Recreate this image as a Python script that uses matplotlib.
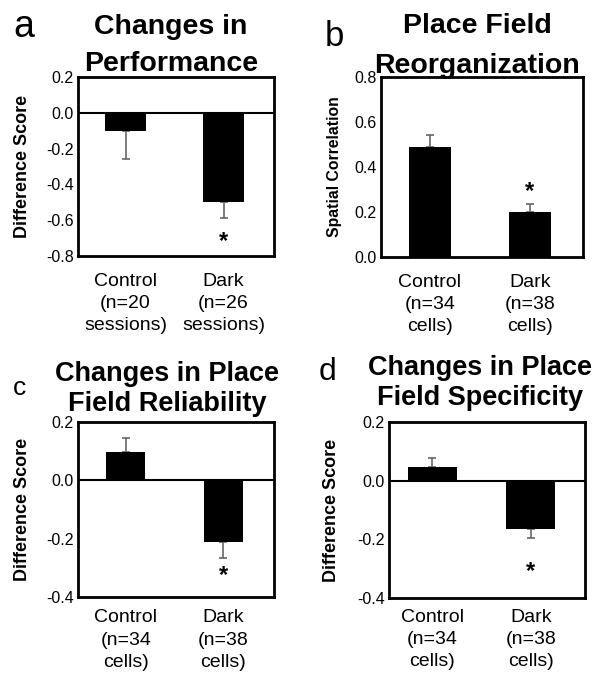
import matplotlib
matplotlib.use("Agg")
import matplotlib.pyplot as plt

plt.rcParams['font.family'] = ['Liberation Sans', 'DejaVu Sans']

# ---- data ----
groups = ["Control", "Dark"]

perf_labels = ["Control\n(n=20\nsessions)", "Dark\n(n=26\nsessions)"]
perf_vals = [-0.10, -0.50]
perf_err = [0.16, 0.09]
perf_star = -0.72

reorg_labels = ["Control\n(n=34\ncells)", "Dark\n(n=38\ncells)"]
reorg_vals = [0.49, 0.20]
reorg_err = [0.05, 0.035]
reorg_star = 0.29

rel_labels = ["Control\n(n=34\ncells)", "Dark\n(n=38\ncells)"]
rel_vals = [0.096, -0.213]
rel_err = [0.05, 0.052]
rel_star = -0.325

spec_labels = ["Control\n(n=34\ncells)", "Dark\n(n=38\ncells)"]
spec_vals = [0.048, -0.165]
spec_err = [0.03, 0.03]
spec_star = -0.31

fig = plt.figure(figsize=(5.98, 6.75), dpi=100)

def panel(rect, vals, errs, labels, ylim, yticks, ylabel, ylabel_size,
          xlim, width, star_y, zero_line, lpad, xpad):
    ax = fig.add_axes(rect)
    x = [1, 2]
    ax.bar(x, vals, width=width, color='black', zorder=2)
    for xi, v, e in zip(x, vals, errs):
        sign = 1 if v >= 0 else -1
        ax.errorbar([xi], [v], yerr=[[0], [e]] if sign > 0 else [[e], [0]],
                    fmt='none', ecolor='#666666', elinewidth=1.2,
                    capsize=3, capthick=1.2, zorder=1)
    if zero_line:
        ax.axhline(0, color='black', lw=1.5, zorder=3)
    ax.text(2, star_y, "*", ha='center', va='center', fontsize=17,
            fontweight='bold')
    ax.set_ylim(*ylim)
    ax.set_xlim(*xlim)
    ax.set_yticks(yticks)
    ax.set_yticklabels([f"{t:.1f}" for t in yticks], fontsize=11.5)
    ax.set_xticks(x)
    ax.set_xticklabels(labels, fontsize=14, linespacing=1.4)
    ax.tick_params(axis='both', length=0)
    ax.tick_params(axis='y', pad=3)
    ax.tick_params(axis='x', pad=xpad)
    for s in ax.spines.values():
        s.set_linewidth(2)
    ax.set_ylabel(ylabel, fontsize=ylabel_size, fontweight='bold', labelpad=lpad)
    return ax

panel([0.1304, 0.6207, 0.3278, 0.2652], perf_vals, perf_err, perf_labels,
      (-0.8, 0.2), [0.2, 0.0, -0.2, -0.4, -0.6, -0.8], "Difference Score", 13,
      (0.515, 2.515), 0.42, perf_star, True, 11, 12)
panel([0.6371, 0.6193, 0.3378, 0.2667], reorg_vals, reorg_err, reorg_labels,
      (0.0, 0.8), [0.0, 0.2, 0.4, 0.6, 0.8], "Spatial Correlation", 11.3,
      (0.51, 2.53), 0.42, reorg_star, False, 9, 12)
panel([0.1304, 0.1156, 0.3278, 0.2593], rel_vals, rel_err, rel_labels,
      (-0.4, 0.2), [0.2, 0.0, -0.2, -0.4], "Difference Score", 13,
      (0.51, 2.52), 0.40, rel_star, True, 11, 9)
panel([0.6505, 0.1141, 0.3278, 0.2607], spec_vals, spec_err, spec_labels,
      (-0.4, 0.2), [0.2, 0.0, -0.2, -0.4], "Difference Score", 13,
      (0.56, 2.55), 0.50, spec_star, True, 12, 8)

W, H = 598.0, 675.0
def ftext(x, y, s, **kw):
    fig.text(x / W, 1 - y / H, s, ha='center', va='center', **kw)

tkw = dict(fontsize=20.5, fontweight='bold')
tkw2 = dict(fontsize=19.5, fontweight='bold')
ftext(171, 27, "Changes in", **tkw)
ftext(171, 64, "Performance", **tkw)
ftext(477, 26, "Place Field", **tkw)
ftext(477, 66, "Reorganization", **tkw)
ftext(167, 374, "Changes in Place", **tkw2)
ftext(167, 404, "Field Reliability", **tkw2)
ftext(480, 368, "Changes in Place", **tkw2)
ftext(480, 398, "Field Specificity", **tkw2)

ftext(24, 27, "a", fontsize=27)
ftext(334, 36, "b", fontsize=25)
ftext(19, 388, "c", fontsize=19)
ftext(327, 372, "d", fontsize=23)

fig.savefig("out.png", dpi=100)
